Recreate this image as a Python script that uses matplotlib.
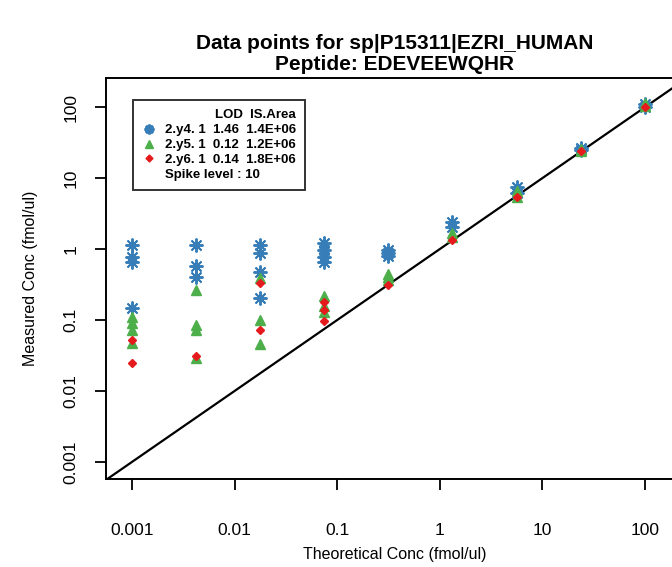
import numpy as np
import matplotlib
matplotlib.use('Agg')
import matplotlib.pyplot as plt
from matplotlib.lines import Line2D

plt.rcParams['font.family'] = ['Liberation Sans', 'DejaVu Sans']

# Theoretical concentrations (fmol/ul)
theo_levels = [0.001, 0.0042, 0.0178, 0.075, 0.316, 1.33, 5.62, 23.7, 100]

# Measured concentrations per transition, one list per theoretical level
y4_meas = [[1.15, 0.78, 0.66, 0.15],
           [1.14, 0.58, 0.41],
           [1.14, 0.88, 0.48, 0.205],
           [1.22, 0.97, 0.78, 0.65],
           [0.97, 0.87, 0.80],
           [2.4, 2.05],
           [7.4, 6.2],
           [27, 25],
           [110, 100]]
y5_meas = [[0.11, 0.09, 0.072, 0.047],
           [0.265, 0.085, 0.072, 0.029],
           [0.39, 0.10, 0.046],
           [0.22, 0.16, 0.13],
           [0.45, 0.40, 0.37],
           [1.7, 1.5],
           [6.5, 5.5],
           [26, 24],
           [115, 105]]
y6_meas = [[0.052, 0.0245],
           [0.031],
           [0.33, 0.072],
           [0.18, 0.14, 0.096],
           [0.31],
           [1.35],
           [5.5],
           [24],
           [100]]

series_names = ['2.y4. 1', '2.y5. 1', '2.y6. 1']
series_lod = ['1.46', '0.12', '0.14']
series_area = ['1.4E+06', '1.2E+06', '1.8E+06']
spike_level = 10

colors = ['#377EB8', '#4DAF4A', '#E41A1C']


def flatten(levels, meas):
    xs, ys = [], []
    for x, vals in zip(levels, meas):
        for v in vals:
            xs.append(x)
            ys.append(v)
    return xs, ys


fig = plt.figure(figsize=(6.72, 5.67), dpi=100)
ax = fig.add_axes([0.1577, 0.1552, 0.860, 0.707])

ax.set_xscale('log')
ax.set_yscale('log')
ax.set_xlim(10 ** -3.253, 10 ** 2.38)
ax.set_ylim(10 ** -3.24, 10 ** 2.41)

# identity line
lim = np.array([1e-4, 1e3])
ax.plot(lim, lim, color='black', lw=1.6, zorder=1)

x4, v4 = flatten(theo_levels, y4_meas)
x5, v5 = flatten(theo_levels, y5_meas)
x6, v6 = flatten(theo_levels, y6_meas)

ax.plot(x4, v4, linestyle='none', marker=(8, 2, 0), markersize=10,
        markeredgecolor=colors[0], markeredgewidth=1.4, zorder=2)
ax.plot(x5, v5, linestyle='none', marker='^', markersize=7,
        color=colors[1], zorder=3)
ax.plot(x6, v6, linestyle='none', marker='D', markersize=4,
        color=colors[2], zorder=4)

ticks = [0.001, 0.01, 0.1, 1, 10, 100]
tick_labels = ['0.001', '0.01', '0.1', '1', '10', '100']
ax.set_xticks(ticks)
ax.set_xticklabels(tick_labels)
ax.set_yticks(ticks)
ax.set_yticklabels(tick_labels, rotation=90, va='center')
ax.minorticks_off()
ax.tick_params(axis='both', direction='out', length=8, width=1.3,
               labelsize=12.5, colors='black')
ax.tick_params(axis='x', pad=24)
ax.tick_params(axis='y', pad=12)
for s in ax.spines.values():
    s.set_linewidth(1.4)

ax.set_xlabel('Theoretical Conc (fmol/ul)', fontsize=11.5, labelpad=6)
ax.set_ylabel('Measured Conc (fmol/ul)', fontsize=11.5, labelpad=18)
ax.set_title('Data points for sp|P15311|EZRI_HUMAN\nPeptide: EDEVEEWQHR',
             fontsize=15, fontweight='bold', pad=6, linespacing=1.15)

handles = [
    Line2D([], [], linestyle='none', marker=(8, 2, 0), markersize=7,
           markeredgecolor=colors[0], markeredgewidth=2),
    Line2D([], [], linestyle='none', marker='^', markersize=6, color=colors[1]),
    Line2D([], [], linestyle='none', marker='D', markersize=3.5, color=colors[2]),
    Line2D([], [], linestyle='none'),
]
labels = ['%s  %s  %s' % (n, l, a) for n, l, a in zip(series_names, series_lod, series_area)]
labels.append('Spike level : %d' % spike_level)

leg = ax.legend(handles, labels, title='LOD  IS.Area', alignment='right',
                loc='upper left', bbox_to_anchor=(0.047, 0.945),
                prop={'weight': 'bold', 'size': 9.5},
                title_fontproperties={'weight': 'bold', 'size': 9.5},
                frameon=True, fancybox=False, edgecolor='black',
                handlelength=1.0, handletextpad=0.7, labelspacing=0.2,
                borderpad=0.7, borderaxespad=0)
leg.get_frame().set_linewidth(1.4)

fig.savefig('out.png', dpi=100)
